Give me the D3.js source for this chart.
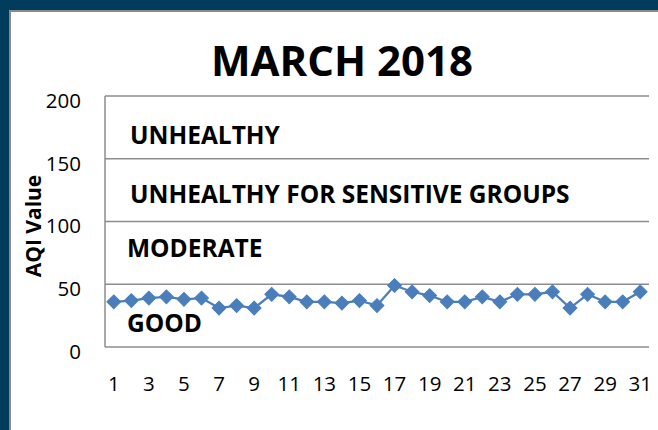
<!DOCTYPE html>
<html><head><meta charset="utf-8">
<script src="https://cdn.jsdelivr.net/npm/d3@7"></script>
<style>
html,body{margin:0;padding:0;background:#fff;}
svg{display:block;}
</style></head>
<body>
<script>
const days = d3.range(1, 32);
const aqiValues = [36,37,39,40,38,39,31,33,31,42,40,36,36,35,37,33,49,44,41,36,36,40,36,42,42,44,31,42,36,36,44];
const xTickLabels = [1,3,5,7,9,11,13,15,17,19,21,23,25,27,29,31];
const yTicks = [0,50,100,150,200];
const bandLabels = [
  {text:"UNHEALTHY", value:162},
  {text:"UNHEALTHY FOR SENSITIVE GROUPS", value:115},
  {text:"MODERATE", value:72},
  {text:"GOOD", value:12}
];
const title = "MARCH 2018";
const yTitle = "AQI Value";

(function(){
const W = 658, H = 430;
const svg = d3.select("body").append("svg").attr("width", W).attr("height", H);

// frame
svg.append("rect").attr("x",0).attr("y",0).attr("width",W).attr("height",H).attr("fill","#023c5d");
svg.append("rect").attr("x",9).attr("y",10).attr("width",W-9).attr("height",H-10).attr("fill","#8a8a8a");
svg.append("rect").attr("x",11).attr("y",12).attr("width",W-11).attr("height",H-12).attr("fill","#ffffff");

const pL = 105, pR = 649, pT = 96, pB = 347;
const x = d3.scaleBand().domain(days).range([pL, pR]).paddingInner(0).paddingOuter(0);
const y = d3.scaleLinear().domain([0,200]).range([pB, pT]);
const cx = d => x(d) + x.bandwidth()/2;

// gridlines
svg.append("g").selectAll("line").data(yTicks).join("line")
  .attr("x1", pL).attr("x2", pR)
  .attr("y1", d => y(d)).attr("y2", d => y(d))
  .attr("stroke", "#8c8c8c").attr("stroke-width", 1.5);
svg.append("line").attr("x1", pL).attr("x2", pL).attr("y1", y(200)).attr("y2", y(0))
  .attr("stroke", "#8c8c8c").attr("stroke-width", 1.5);

// y axis labels
const yAxis = d3.axisLeft(y).tickValues(yTicks).tickSize(0).tickPadding(0);
const gy = svg.append("g").attr("transform", `translate(81,0)`).call(yAxis);
gy.select(".domain").remove();
gy.selectAll("text").attr("font-family","'Open Sans', sans-serif").attr("font-size", 20.5)
  .attr("fill","#000").attr("dy","0.55em");

// x axis labels
const xAxis = d3.axisBottom(x).tickValues(xTickLabels).tickSize(0).tickPadding(0);
const gx = svg.append("g").attr("transform", `translate(0,377)`).call(xAxis);
gx.select(".domain").remove();
gx.selectAll("text").attr("font-family","'Open Sans', sans-serif").attr("font-size", 20.5)
  .attr("fill","#000").attr("dy","0.7em");

// band labels
svg.append("g").selectAll("text").data(bandLabels).join("text")
  .attr("x", (d,i) => i >= 2 ? 127 : 130)
  .attr("y", d => y(d.value))
  .attr("font-family","'Open Sans', sans-serif").attr("font-weight","bold")
  .attr("font-size", 24.5).attr("fill","#000")
  .text(d => d.text);

// title
svg.append("text").attr("x", 342).attr("y", 76).attr("text-anchor","middle")
  .attr("font-family","'Open Sans', sans-serif").attr("font-weight","bold")
  .attr("font-size", 42).attr("fill","#000").text(title);

// y title
svg.append("text").attr("transform", `translate(41,226) rotate(-90)`).attr("text-anchor","middle")
  .attr("font-family","'Open Sans', sans-serif").attr("font-weight","bold")
  .attr("font-size", 21).attr("fill","#000").text(yTitle);

// line
const line = d3.line().x((d,i) => cx(days[i])).y(d => y(d));
svg.append("path").datum(aqiValues).attr("d", line)
  .attr("fill","none").attr("stroke","#4a7ebb").attr("stroke-width", 2.25);

// diamond markers
svg.append("g").selectAll("path").data(aqiValues).join("path")
  .attr("d", d3.symbol().type(d3.symbolSquare).size(95))
  .attr("transform", (d,i) => `translate(${cx(days[i])},${y(d)}) rotate(45)`)
  .attr("fill","#4a7ebb").attr("stroke","#4a7ebb").attr("stroke-width",1);
})();
</script>
</body></html>
